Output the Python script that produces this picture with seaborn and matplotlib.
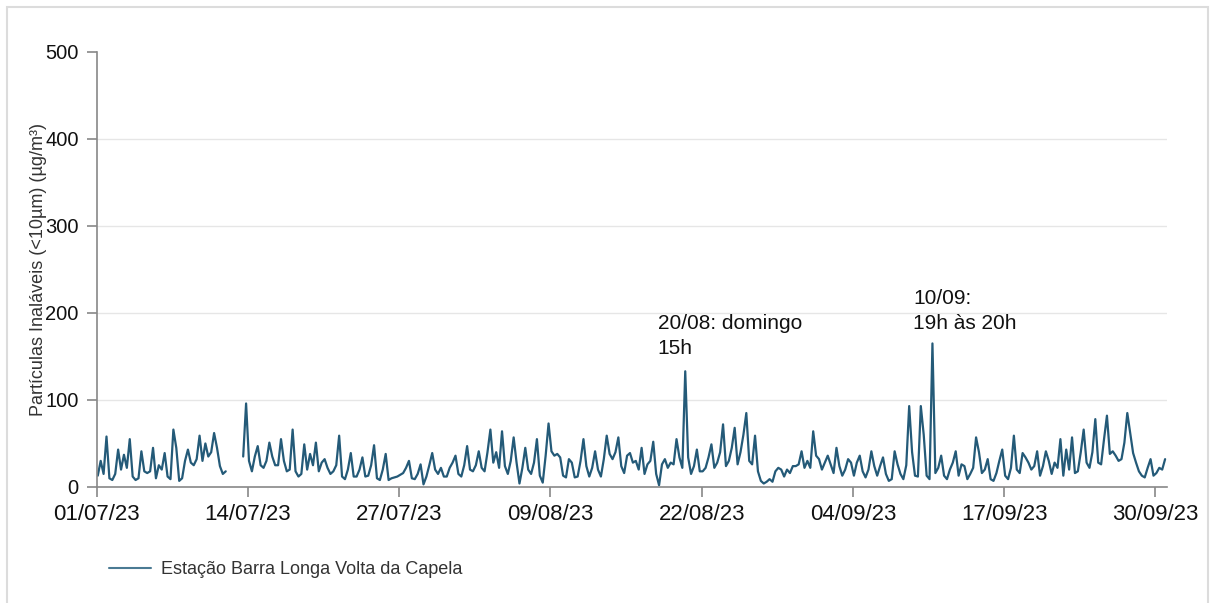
import numpy as np
import pandas as pd
import matplotlib
matplotlib.use('Agg')
import matplotlib.pyplot as plt
import matplotlib.dates as mdates
from matplotlib.lines import Line2D
from matplotlib.patches import Rectangle
import seaborn as sns

nan = np.nan

# PM10 readings, 4 per day (02h, 08h, 14h, 20h)
sample_hours = [2, 8, 14, 20]
jul = [13, 30, 15, 58, 10, 8, 15, 43, 20, 37, 22, 55, 12, 8, 10, 41, 18, 16, 18, 45,
       10, 25, 20, 39, 12, 9, 66, 45, 7, 10, 30, 43, 28, 25, 32, 59, 30, 50, 35, 40,
       62, 45, 24, 15, 18, nan, nan, nan, nan, nan, 35, 96, 30, 18, 35, 47, 25, 22, 30, 51,
       35, 25, 25, 55, 30, 18, 20, 66, 18, 12, 15, 49, 20, 38, 25, 51, 18, 28, 32, 22,
       15, 18, 25, 59, 12, 9, 20, 39, 12, 12, 20, 34, 12, 13, 25, 48, 10, 8, 20, 38,
       8, 10, 11, 12, 14, 16, 22, 30, 10, 9, 15, 26, 3, 12, 25, 39, 20, 15, 22, 12,
       12, 22, 28, 36]
aug = [15, 12, 25, 47, 20, 18, 25, 41, 22, 18, 40, 66, 28, 40, 22, 64, 24, 15, 30, 57,
       28, 4, 22, 45, 20, 15, 28, 55, 13, 5, 36, 73, 41, 36, 38, 34, 13, 11, 32, 28,
       11, 12, 30, 55, 24, 12, 22, 41, 20, 12, 32, 59, 38, 32, 40, 57, 24, 16, 36, 39,
       28, 30, 20, 45, 15, 26, 30, 52, 15, 2, 26, 32, 22, 28, 26, 55, 34, 22, 133, 34,
       15, 24, 43, 18, 18, 22, 34, 49, 22, 28, 40, 72, 24, 30, 45, 68, 26, 40, 60, 85,
       30, 26, 59, 18, 7, 4, 6, 9, 6, 18, 22, 20, 12, 20, 16, 24, 24, 26, 41, 22,
       30, 22, 64, 36]
sep = [32, 20, 28, 36, 26, 16, 45, 24, 13, 20, 32, 28, 13, 28, 36, 18, 11, 20, 41, 24,
       13, 24, 34, 15, 7, 9, 41, 26, 15, 9, 25, 93, 40, 13, 12, 93, 60, 13, 9, 165,
       16, 22, 36, 13, 9, 20, 28, 41, 13, 26, 24, 9, 15, 22, 57, 40, 16, 20, 32, 9,
       7, 16, 30, 43, 13, 9, 22, 59, 20, 16, 39, 34, 28, 20, 24, 41, 13, 24, 41, 30,
       15, 28, 22, 55, 13, 43, 20, 57, 16, 18, 40, 66, 28, 22, 40, 78, 28, 26, 55, 82,
       38, 41, 36, 30, 32, 51, 85, 62, 39, 28, 18, 13, 11, 22, 32, 13, 16, 22, 20, 32]

tick_dates = ['2023-07-01', '2023-07-14', '2023-07-27', '2023-08-09',
              '2023-08-22', '2023-09-04', '2023-09-17', '2023-09-30']
y_ticks = [0, 100, 200, 300, 400, 500]
station = 'Estação Barra Longa Volta da Capela'
ylabel = 'Partículas Inaláveis (<10µm) (µg/m³)'
note_x = ['2023-08-18 05:00', '2023-09-09 04:00']
note_y = [199, 228]
note_txt = ['20/08: domingo\n15h', '10/09:\n19h às 20h']

days = pd.date_range('2023-07-01', '2023-09-30', freq='D')
times = [d + pd.Timedelta(hours=h) for d in days for h in sample_hours]
df = pd.DataFrame({'time': times, 'pm10': jul + aug + sep})
df['seg'] = df['pm10'].isna().cumsum()
df = df.dropna()

sns.set_theme(style='white')
plt.rcParams['font.family'] = ['Liberation Sans', 'DejaVu Sans']

fig, ax = plt.subplots(figsize=(12.1, 6.03), dpi=100)
fig.subplots_adjust(left=0.080, right=0.9645, bottom=0.1924, top=0.9138)

line_col = '#245a78'
sns.lineplot(data=df, x='time', y='pm10', units='seg', estimator=None,
             color=line_col, lw=1.6, ax=ax)

ax.set_ylim(0, 500)
ax.set_yticks(y_ticks)
ax.set_xlim(pd.Timestamp('2023-07-01'), pd.Timestamp('2023-10-01'))
ax.set_xticks(pd.to_datetime(tick_dates))
ax.xaxis.set_major_formatter(mdates.DateFormatter('%d/%m/%y'))
ax.tick_params(direction='out', length=7, width=1.2, color='#888888', pad=6,
               labelcolor='#111111', bottom=True, left=True)
ax.tick_params(axis='x', labelsize=16, pad=5)
ax.tick_params(axis='y', labelsize=14.5)
for s in ['top', 'right']:
    ax.spines[s].set_visible(False)
for s in ['left', 'bottom']:
    ax.spines[s].set_color('#888888')
    ax.spines[s].set_linewidth(1.2)

ax.yaxis.grid(True, color='#e6e6e6', lw=1)
for gl, v in zip(ax.yaxis.get_gridlines(), ax.get_yticks()):
    if v in (0, 500):
        gl.set_visible(False)

ax.set_xlabel('')
ax.set_ylabel(ylabel, fontsize=13, color='#333333', labelpad=-1)

for x, y, t in zip(note_x, note_y, note_txt):
    ax.text(pd.Timestamp(x), y, t, fontsize=15, va='top', ha='left',
            color='#111111', linespacing=1.4)

handle = Line2D([], [], color='#4a7a93', lw=1.5)
fig.legend(handles=[handle], labels=[station], loc='center left',
           bbox_to_anchor=(93 / 1210, 1 - 570 / 603), frameon=False,
           fontsize=13, handlelength=2.3, handletextpad=0.55, labelcolor='#333333')

fig.add_artist(Rectangle((7 / 1210, -0.05), (1208 - 7) / 1210, 1 - 7 / 603 + 0.05,
                         transform=fig.transFigure, fill=False,
                         edgecolor='#dcdcdc', lw=1.5))

fig.savefig('out.png', dpi=100)
